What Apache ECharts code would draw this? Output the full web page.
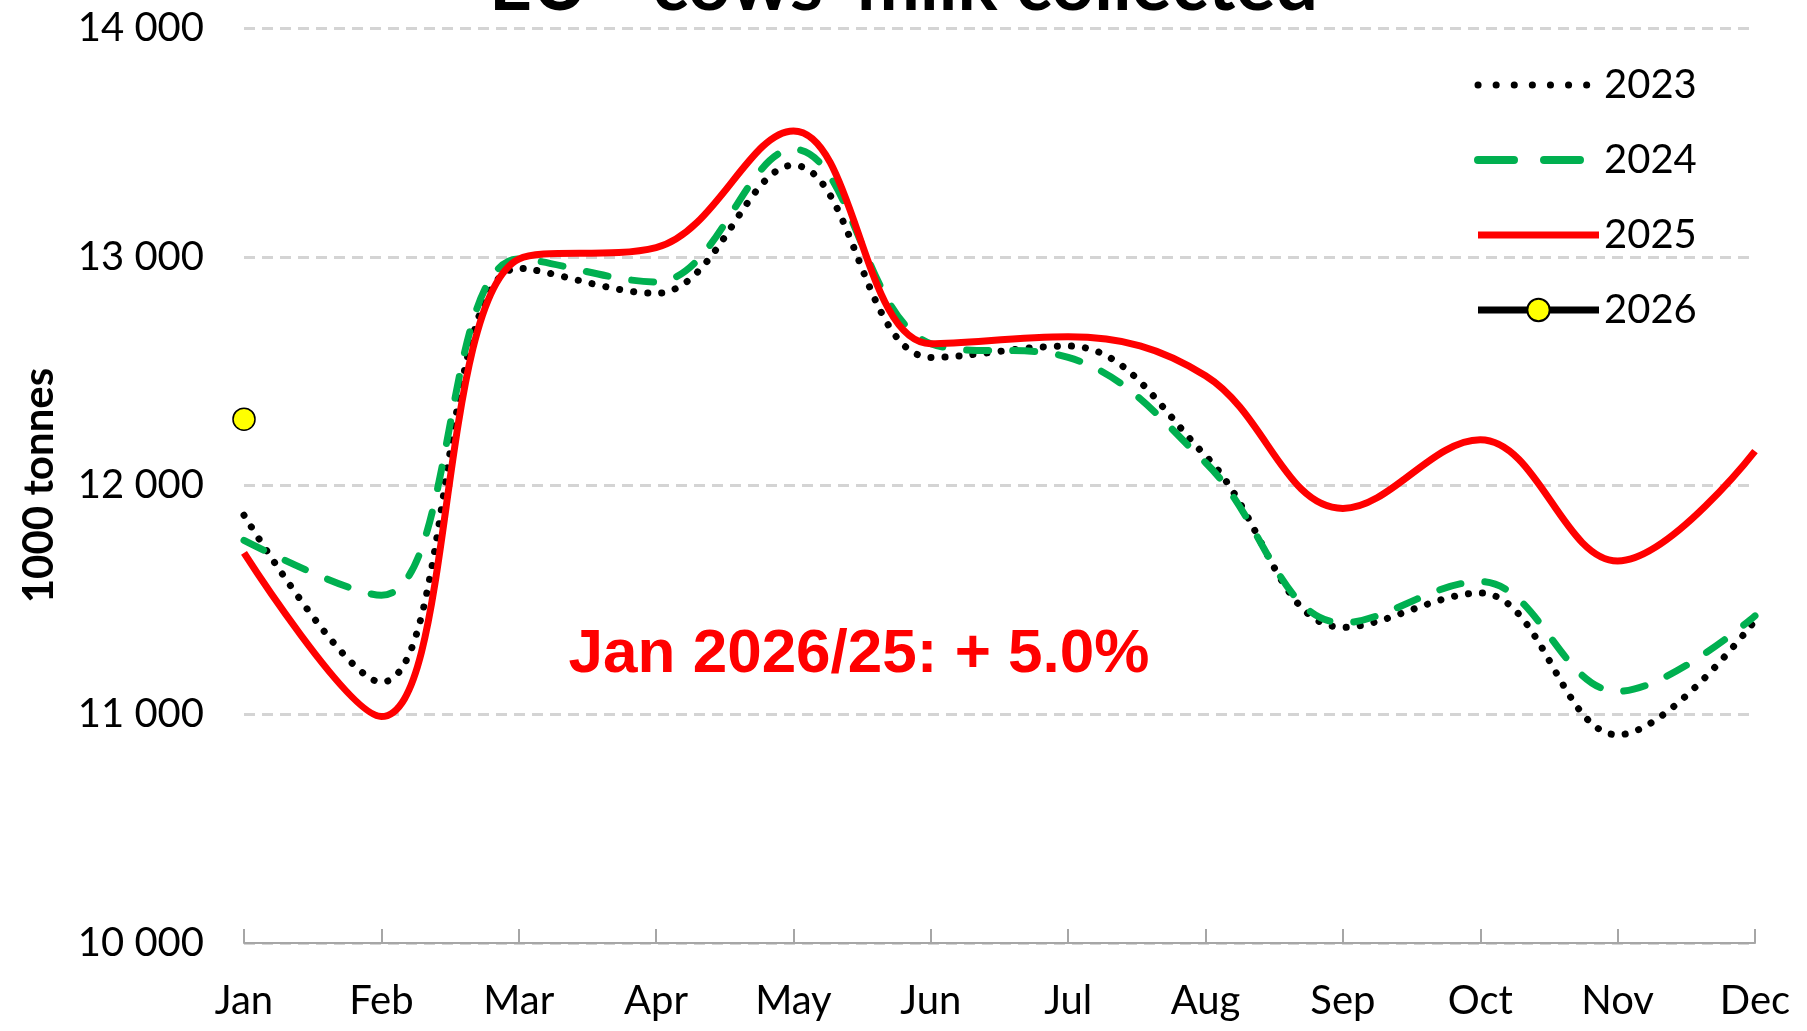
<!DOCTYPE html>
<html>
<head>
<meta charset="utf-8">
<script src="https://cdn.jsdelivr.net/npm/echarts@6/dist/echarts.min.js"></script>
<style>
  html, body { margin: 0; padding: 0; background: #fff; }
  #chart { width: 1807px; height: 1031px; }
</style>
</head>
<body>
<div id="chart"></div>
<script>
const months = ['Jan', 'Feb', 'Mar', 'Apr', 'May', 'Jun', 'Jul', 'Aug', 'Sep', 'Oct', 'Nov', 'Dec'];
// 1000 tonnes
const milk2023 = [11870, 11140, 12950, 12840, 13400, 12560, 12610, 12130, 11380, 11530, 10910, 11410];
const milk2024 = [11760, 11520, 12990, 12890, 13470, 12620, 12560, 12100, 11400, 11580, 11100, 11430];
const milk2025 = [11705, 10990, 12990, 13040, 13550, 12620, 12650, 12480, 11900, 12200, 11670, 12150];
const milk2026 = [12290];
const yTicks = [10000, 11000, 12000, 13000, 14000];

const titleText = "EU - cows' milk collected";
const noteText = 'Jan 2026/25: + 5.0%';

const fmt = v => String(v).replace(/\B(?=(\d{3})+(?!\d))/g, ' ');
const labelFont = 'Lato';
const noSymbol = { opacity: 0 };
const smoothing = 0.38;

const chart = echarts.init(document.getElementById('chart'));
chart.setOption({
  animation: false,
  backgroundColor: '#fff',
  grid: { left: 244, right: 52, top: 28, bottom: 88 },
  xAxis: {
    type: 'category',
    data: months,
    boundaryGap: false,
    axisLine: { lineStyle: { color: '#a6a6a6', width: 2 } },
    axisTick: { inside: true, length: 14, lineStyle: { color: '#a6a6a6', width: 2 } },
    axisLabel: { margin: 38, color: '#000', fontSize: 40, fontFamily: labelFont },
    splitLine: { show: false }
  },
  yAxis: {
    type: 'value',
    min: yTicks[0],
    max: yTicks[yTicks.length - 1],
    interval: 1000,
    name: '1000 tonnes',
    nameLocation: 'middle',
    nameRotate: 90,
    nameGap: 184,
    nameTextStyle: { color: '#000', fontSize: 42, fontWeight: 'bold', fontFamily: labelFont },
    axisLine: { show: false },
    axisTick: { show: false },
    axisLabel: { margin: 40, color: '#000', fontSize: 40, fontFamily: labelFont, formatter: fmt },
    splitLine: { lineStyle: { color: '#d4d4d4', width: 3, type: [11, 7] } }
  },
  legend: {
    orient: 'vertical',
    left: 1469,
    top: 60,
    itemWidth: 121,
    itemHeight: 28,
    itemGap: 35,
    textStyle: { color: '#000', fontSize: 40, fontFamily: labelFont },
    data: [
      { name: '2023', itemStyle: noSymbol, lineStyle: { width: 7, type: [0.1, 18], cap: 'round' } },
      { name: '2024', itemStyle: noSymbol, lineStyle: { width: 8, type: [36, 30], cap: 'round' } },
      { name: '2025', itemStyle: noSymbol, lineStyle: { width: 7 } },
      { name: '2026', lineStyle: { width: 7 } }
    ]
  },
  series: [
    {
      name: '2023', type: 'line', data: milk2023, smooth: smoothing, symbol: 'none',
      lineStyle: { color: '#000', width: 7, type: [0.1, 14], cap: 'round' },
      itemStyle: { color: '#000' }, z: 2
    },
    {
      name: '2024', type: 'line', data: milk2024, smooth: smoothing, symbol: 'none',
      lineStyle: { color: '#00b050', width: 7, type: [22, 24], cap: 'round' },
      itemStyle: { color: '#00b050' }, z: 3
    },
    {
      name: '2025', type: 'line', data: milk2025, smooth: smoothing, symbol: 'none',
      lineStyle: { color: '#ff0000', width: 7 },
      itemStyle: { color: '#ff0000' }, z: 4
    },
    {
      name: '2026', type: 'line', data: milk2026, symbol: 'circle', symbolSize: 22,
      lineStyle: { color: '#000', width: 7 },
      itemStyle: { color: '#ffff00', borderColor: '#000', borderWidth: 1.5 }, z: 5
    }
  ],
  graphic: [
    {
      type: 'text', left: 'center', top: -52,
      style: { text: titleText, fill: '#000', font: 'bold 75px Lato' }
    },
    {
      type: 'text', x: 859, y: 655,
      style: { text: noteText, fill: '#ff0000', font: 'bold 62px "Liberation Sans"', align: 'center', verticalAlign: 'middle' }
    }
  ]
});
</script>
</body>
</html>
